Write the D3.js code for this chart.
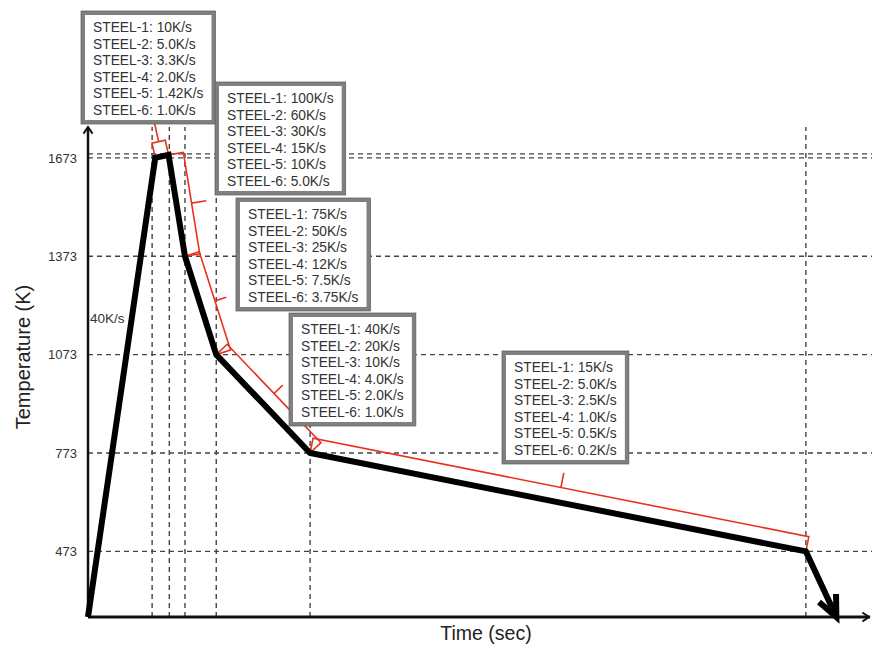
<!DOCTYPE html>
<meta charset="utf-8">
<style>
    body { margin: 0; background: #fff; }
    svg text { font-family: "Liberation Sans", Arial, sans-serif; }
</style>
<svg width="872" height="645"></svg>
<script src="https://cdn.jsdelivr.net/npm/d3@7/dist/d3.min.js"></script>
<script>
    // heat treatment schedule (time axis is schematic, no labels)
    var pathTime = [0, 86, 103, 124, 164, 284, 918, 957];
    var pathTemp = [273, 1673, 1682, 1373, 1073, 773, 473, 273];

    var tempTicks = [473, 773, 1073, 1373, 1673];
    var extraTempLines = [1685];
    var timeMarks = [82, 104, 124, 164, 284, 918];

    var heatingRate = "40K/s";
    var steels = ["STEEL-1", "STEEL-2", "STEEL-3", "STEEL-4", "STEEL-5", "STEEL-6"];
    var rates1 = ["10K/s", "5.0K/s", "3.3K/s", "2.0K/s", "1.42K/s", "1.0K/s"];
    var rates2 = ["100K/s", "60K/s", "30K/s", "15K/s", "10K/s", "5.0K/s"];
    var rates3 = ["75K/s", "50K/s", "25K/s", "12K/s", "7.5K/s", "3.75K/s"];
    var rates4 = ["40K/s", "20K/s", "10K/s", "4.0K/s", "2.0K/s", "1.0K/s"];
    var rates5 = ["15K/s", "5.0K/s", "2.5K/s", "1.0K/s", "0.5K/s", "0.2K/s"];
    var allRates = [rates1, rates2, rates3, rates4, rates5];
    // segment of the black path each box refers to
    var bracketSeg = [1, 2, 3, 4, 5];

    // layout of the annotation boxes
    var boxPos = [[83, 13], [217, 84], [238, 200], [291, 315], [504, 353]];
    var tickLen = [20, 15, 12, 12, 15];
    var offset = 15;

    var svg = d3.select("svg"),
        margin = {top: 127, right: 2, bottom: 28, left: 88},
        width = +svg.attr("width") - margin.left - margin.right,
        height = +svg.attr("height") - margin.top - margin.bottom;

    var x = d3.scaleLinear().domain([0, 1000]).range([margin.left, margin.left + width]);
    var y = d3.scaleLinear().domain([273, 1767]).range([margin.top + height, margin.top]);

    var dash = {stroke: "#444", w: 1.4, arr: "5,4"};

    // horizontal guides
    svg.append("g").selectAll("line")
        .data(tempTicks.concat(extraTempLines))
        .enter().append("line")
        .attr("x1", x(0)).attr("x2", 872)
        .attr("y1", d => y(d)).attr("y2", d => y(d))
        .attr("stroke", dash.stroke).attr("stroke-width", dash.w)
        .attr("stroke-dasharray", dash.arr);

    // vertical guides
    svg.append("g").selectAll("line")
        .data(timeMarks)
        .enter().append("line")
        .attr("x1", d => x(d)).attr("x2", d => x(d))
        .attr("y1", y(273)).attr("y2", y(1767))
        .attr("stroke", dash.stroke).attr("stroke-width", dash.w)
        .attr("stroke-dasharray", dash.arr);

    // y tick labels
    var yAxis = svg.append("g")
        .attr("transform", `translate(${x(0)},0)`)
        .call(d3.axisLeft(y).tickValues(tempTicks).tickSize(0).tickPadding(11).tickFormat(d3.format("d")));
    yAxis.select(".domain").remove();
    yAxis.selectAll("text")
        .attr("font-size", 13)
        .attr("fill", "#333")
        .style("font-family", "Liberation Sans, Arial, sans-serif");

    function chevron(g, tip, ang, len, spread, sw, col) {
        var a1 = ang + Math.PI - spread, a2 = ang + Math.PI + spread;
        g.append("path")
            .attr("d", `M${tip[0] + len * Math.cos(a1)},${tip[1] + len * Math.sin(a1)}L${tip[0]},${tip[1]}L${tip[0] + len * Math.cos(a2)},${tip[1] + len * Math.sin(a2)}`)
            .attr("fill", "none").attr("stroke", col).attr("stroke-width", sw)
            .attr("stroke-linejoin", "miter").attr("stroke-linecap", "butt");
    }

    // axes lines with arrows
    var axes = svg.append("g");
    axes.append("line")
        .attr("x1", x(0)).attr("x2", x(0))
        .attr("y1", y(273)).attr("y2", y(1767))
        .attr("stroke", "#111").attr("stroke-width", 2.5);
    chevron(axes, [x(0), y(1767)], -Math.PI / 2, 8, 0.6, 2, "#111");
    axes.append("line")
        .attr("x1", x(0)).attr("x2", x(1000))
        .attr("y1", y(273)).attr("y2", y(273))
        .attr("stroke", "#111").attr("stroke-width", 3);
    chevron(axes, [x(1000) - 1, y(273)], 0, 8, 0.6, 2, "#111");

    // red brackets
    var red = svg.append("g");
    bracketSeg.forEach(function (s, i) {
        var a = [x(pathTime[s]), y(pathTemp[s])],
            b = [x(pathTime[s + 1]), y(pathTemp[s + 1])];
        var dx = b[0] - a[0], dy = b[1] - a[1], len = Math.hypot(dx, dy);
        var nx = dy / len, ny = -dx / len;
        var m = [(a[0] + b[0]) / 2, (a[1] + b[1]) / 2];
        var p = d3.path();
        p.moveTo(a[0], a[1]);
        p.lineTo(a[0] + nx * offset, a[1] + ny * offset);
        p.lineTo(b[0] + nx * offset, b[1] + ny * offset);
        p.lineTo(b[0], b[1]);
        p.moveTo(m[0] + nx * offset, m[1] + ny * offset);
        p.lineTo(m[0] + nx * (offset + tickLen[i]), m[1] + ny * (offset + tickLen[i]));
        red.append("path")
            .attr("d", p.toString())
            .attr("fill", "none")
            .attr("stroke", "#e8321e")
            .attr("stroke-width", 1.6);
    });

    // black schedule line
    var pts = pathTime.map((t, i) => [t, pathTemp[i]]);
    var line = d3.line().x(d => x(d[0])).y(d => y(d[1]));
    svg.append("path")
        .datum(pts)
        .attr("d", line)
        .attr("fill", "none")
        .attr("stroke", "#000")
        .attr("stroke-width", 6)
        .attr("stroke-linejoin", "miter");
    var n = pts.length;
    var tip = [x(pts[n - 1][0]), y(pts[n - 1][1])],
        prev = [x(pts[n - 2][0]), y(pts[n - 2][1])];
    chevron(svg, tip, Math.atan2(tip[1] - prev[1], tip[0] - prev[0]), 23, 0.42, 6, "#000");

    // heating rate label
    svg.append("text")
        .attr("x", x(0) + 2)
        .attr("y", 323)
        .attr("font-size", 13.5)
        .attr("fill", "#333")
        .text(heatingRate);

    // annotation boxes
    allRates.forEach(function (rates, i) {
        var g = svg.append("g").attr("transform", `translate(${boxPos[i][0]},${boxPos[i][1]})`);
        var rect = g.append("rect")
            .attr("fill", "#fff")
            .attr("stroke", "#808080")
            .attr("stroke-width", 4);
        var inner = g.append("rect")
            .attr("fill", "none")
            .attr("stroke", "#5a5a5a")
            .attr("stroke-width", 0.7);
        var t = g.append("g");
        rates.forEach(function (r, j) {
            t.append("text")
                .attr("x", 10)
                .attr("y", 19 + j * 16.6)
                .attr("font-size", 13.8)
                .attr("fill", "#333")
                .text(steels[j] + ": " + r);
        });
        var w = t.node().getBBox().width + 20;
        rect.attr("width", w).attr("height", 109);
        inner.attr("x", -2).attr("y", -2).attr("width", w + 4).attr("height", 113);
    });

    // axis titles
    svg.append("text")
        .attr("transform", `translate(30,${(y(273) + y(1767)) / 2 - 15}) rotate(-90)`)
        .attr("text-anchor", "middle")
        .attr("font-size", 20)
        .attr("fill", "#222")
        .text("Temperature (K)");

    svg.append("text")
        .attr("x", 486)
        .attr("y", 640)
        .attr("text-anchor", "middle")
        .attr("font-size", 19.5)
        .attr("fill", "#222")
        .text("Time (sec)");
</script>
